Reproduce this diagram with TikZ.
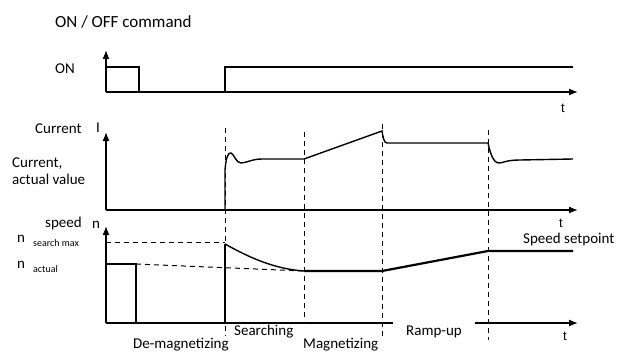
\documentclass[tikz,border=0pt]{standalone}
\usepackage{fontspec}
\setmainfont{Carlito}
\newfontfamily\arialfont{Liberation Sans}
\usetikzlibrary{arrows.meta}
\begin{document}
\begin{tikzpicture}
            [x=1pt, y=-1pt,
        axis/.style={line width=1.3pt, -{Latex[length=9pt,width=7pt]}},
        trace/.style={line width=1.4pt},
        thicktrace/.style={line width=2.2pt},
        guide/.style={line width=1pt, dash pattern=on 5pt off 4pt},
        label/.style={font=\fontsize{15}{18}\selectfont, inner sep=0pt, anchor=base west},
        sublabel/.style={font=\fontsize{10}{12}\selectfont, inner sep=0pt, anchor=base west},
        tlabel/.style={font=\arialfont\fontsize{13}{15}\selectfont, inner sep=0pt, anchor=base}]
            \useasboundingbox (0,0) rectangle (621,353);

            % axes
            \coordinate (O1) at (106,92);
            \coordinate (Y1) at (106,50);
            \coordinate (X1) at (578,92);
            \coordinate (O2) at (106,210);
            \coordinate (Y2) at (106,132);
            \coordinate (X2) at (578,210);
            \coordinate (O3) at (106,323);
            \coordinate (Y3) at (106,226);
            \coordinate (X3) at (578,323);

            \foreach \x/\ytop/\ybot in {225/128/336, 304/132/321, 382/124/338, 488/130/340}
                \draw[guide] (\x,\ytop) -- (\x,\ybot);

            \draw[axis] (O1) -- (Y1);
            \draw[axis] (O1) -- (X1);
            \draw[axis] (O2) -- (Y2);
            \draw[axis] (O2) -- (X2);
            \draw[axis] (O3) -- (Y3);
            \draw[axis] (O3) -- (X3);

            % ON / OFF
            \draw[trace] (106,67) -- (139,67) -- (139,92);
            \draw[trace] (225,92) -- (225,67) -- (573,67);

            % current
            \draw[trace] (225,210) -- (225,170) .. controls (226,158) and (228,152) .. (231,153)
                .. controls (234,154) and (236,163) .. (241,163)
                .. controls (246,163) and (252,159) .. (262,159) -- (304,159) -- (382,131)
                .. controls (383,137) and (384,143) .. (387,143) -- (488,143)
                .. controls (490,152) and (493,163) .. (499,163)
                .. controls (503,163) and (506,160) .. (520,160) -- (573,159);

            % speed
            \draw[guide] (106,242) -- (225,242);
            \draw[guide] (136,264) -- (304,271);
            \draw[thicktrace] (106,264) -- (136,264) -- (136,323) -- (225,323) -- (225,244);
            \draw[trace] (225,244) .. controls (250,258) and (275,269) .. (304,271);
            \draw[thicktrace] (304,271) -- (382,271) -- (488,251) -- (573,251);

            \node[label, font=\fontsize{17}{20}\selectfont] (title) at (55,28) {ON / OFF command};
            \node[label] (on) at (55,74) {ON};
            \node[label] (cur) at (35,133) {Current};
            \node[label] (curI) at (96,132) {I};
            \node[label] (curact) at (12,167) {Current,};
            \node[label] (curval) at (12,184) {actual value};
            \node[label] (spd) at (45,227) {speed};
            \node[label] (spdn) at (92,228) {n};
            \node[label] (nmax) at (17,242) {n};
            \node[sublabel] (nmaxsub) at (33,246) {search max};
            \node[label] (nact) at (17,268) {n};
            \node[sublabel] (nactsub) at (33,272) {actual};
            \node[label] (setp) at (523,243) {Speed setpoint};
            \node[label] (search) at (234,335) {Searching};
            \node[label, anchor=base, fill=white, text height=14pt, minimum width=82pt] (ramp) at (434,335) {Ramp-up};
            \node[label] (demag) at (133,348) {De-magnetizing};
            \node[label] (mag) at (303,348) {Magnetizing};

            \node[tlabel] (t1) at (563,112) {t};
            \node[tlabel] (t2) at (561,227) {t};
            \node[tlabel] (t3) at (565,340) {t};
        \end{tikzpicture}
\end{document}
